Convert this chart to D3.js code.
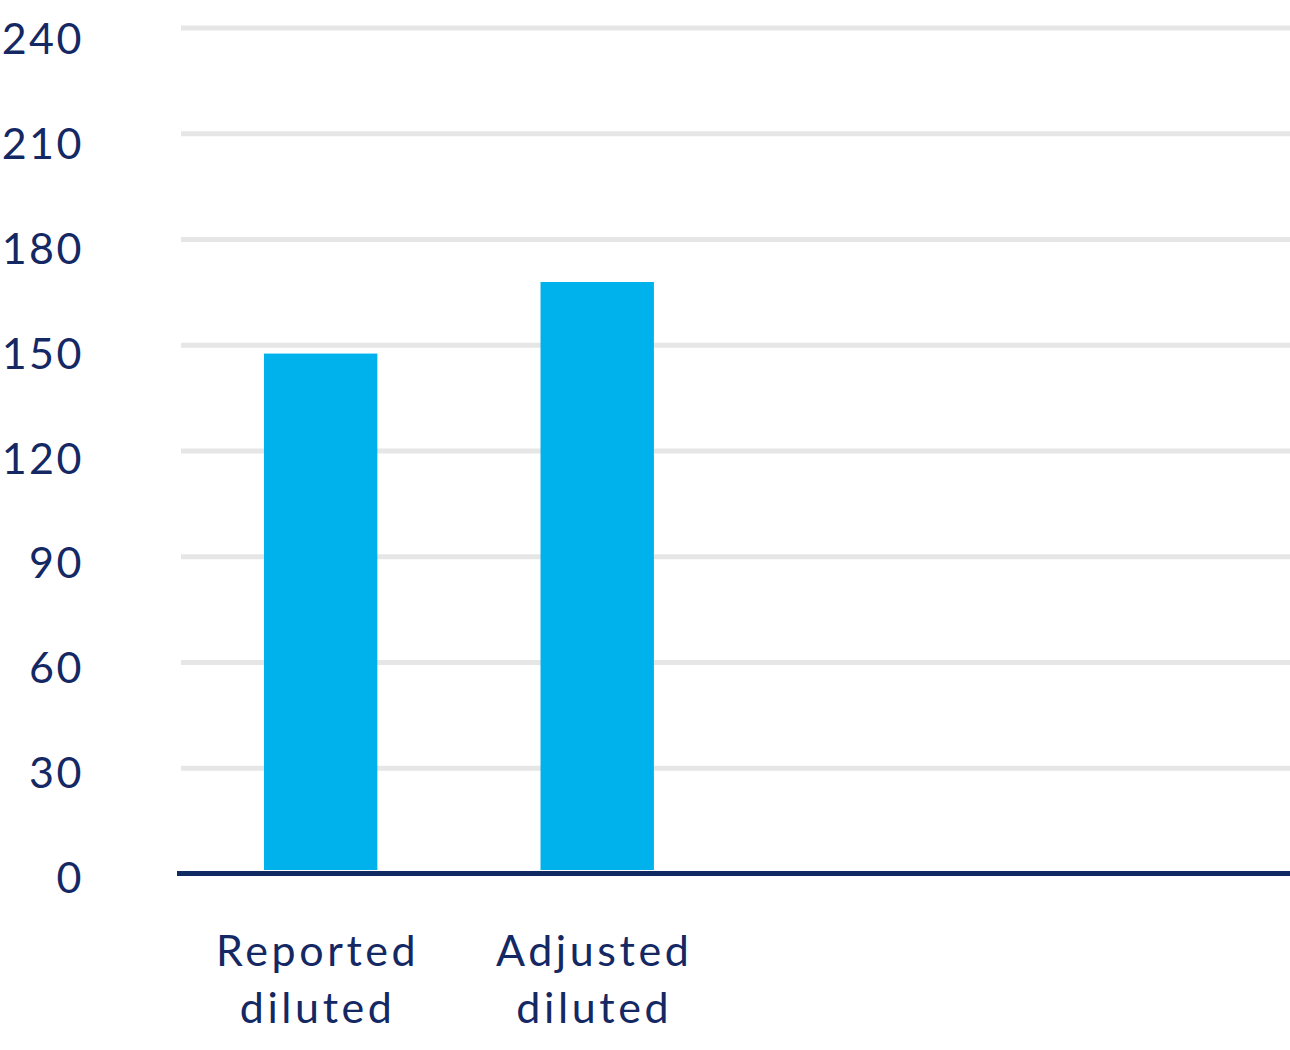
<!DOCTYPE html>
<html>
<head>
<meta charset="utf-8">
<script src="https://cdn.jsdelivr.net/npm/d3@7"></script>
<style>
  body { margin: 0; background: #fff; }
  .axisText { font-family: Lato, "Open Sans", sans-serif; font-weight: 400; fill: #142864; }
</style>
</head>
<body>
<div id="chart"></div>
<script>
// data
var categories = ["Reported diluted", "Adjusted diluted"];
var values = [147.5, 167.8];
var slotCount = 4; // the chart leaves room for four bars, only two are used
var yTicks = [0, 30, 60, 90, 120, 150, 180, 210, 240];

var svgWidth = 1290;
var svgHeight = 1050;

var plotLeft = 181;
var plotRight = 1290;
var zeroY = 873.5;
var topY = 27.5;

var svg = d3.select("#chart")
  .append("svg")
  .attr("width", svgWidth)
  .attr("height", svgHeight);

var yScale = d3.scaleLinear()
  .domain([0, 240])
  .range([zeroY, topY]);

// tick labels sit on a slightly tighter spacing than the gridlines
var yLabelScale = d3.scaleLinear()
  .domain([0, 240])
  .range([893, 54]);

var xScale = d3.scaleBand()
  .domain(d3.range(slotCount))
  .range([plotLeft, plotRight])
  .paddingInner(0.59)
  .paddingOuter(0.3);

// gridlines
var grid = svg.append("g")
  .attr("transform", `translate(${plotLeft}, 0)`)
  .call(d3.axisLeft(yScale).tickValues(yTicks.slice(1)).tickSize(-(plotRight - plotLeft)).tickFormat(""));
grid.select(".domain").remove();
grid.selectAll("line")
  .attr("stroke", "#e6e6e6")
  .attr("stroke-width", 5);

// tick labels
svg.append("g").selectAll("text")
  .data(yTicks)
  .enter()
  .append("text")
  .classed("axisText", true)
  .attr("x", 84)
  .attr("y", d => yLabelScale(d))
  .attr("text-anchor", "end")
  .style("font-size", "43px")
  .style("letter-spacing", "2.5px")
  .text(d => d);

// bars
svg.append("g").selectAll("rect")
  .data(values)
  .enter()
  .append("rect")
  .attr("x", (d, i) => xScale(i))
  .attr("y", d => yScale(d))
  .attr("width", xScale.bandwidth())
  .attr("height", d => yScale(0) - yScale(d) - 3.5)
  .attr("fill", "#00b2eb");

// baseline
svg.append("line")
  .attr("x1", 177)
  .attr("x2", plotRight)
  .attr("y1", yScale(0))
  .attr("y2", yScale(0))
  .attr("stroke", "#0f2a62")
  .attr("stroke-width", 5);

// category labels, two lines each
var catLabels = svg.append("g").selectAll("text")
  .data(categories)
  .enter()
  .append("text")
  .classed("axisText", true)
  .attr("text-anchor", "middle")
  .style("font-size", "43px")
  .style("letter-spacing", "3.6px");

catLabels.each(function(d, i) {
  var cx = xScale(i) + xScale.bandwidth() / 2 - 3;
  var words = d.split(" ");
  d3.select(this).selectAll("tspan")
    .data(words)
    .enter()
    .append("tspan")
    .attr("x", cx)
    .attr("y", (w, j) => 966 + j * 57)
    .text(w => w);
});
</script>
</body>
</html>
